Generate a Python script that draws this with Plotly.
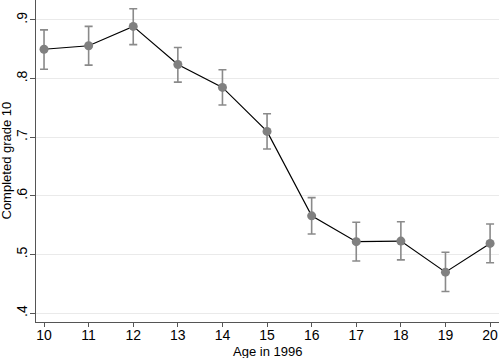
import plotly.graph_objects as go

ages = [10, 11, 12, 13, 14, 15, 16, 17, 18, 19, 20]
share = [0.850, 0.856, 0.889, 0.824, 0.785, 0.710, 0.566, 0.522, 0.523, 0.470, 0.519]
ci_hi = [0.883, 0.889, 0.919, 0.853, 0.815, 0.740, 0.597, 0.555, 0.556, 0.504, 0.552]
ci_lo = [0.816, 0.823, 0.858, 0.794, 0.755, 0.680, 0.535, 0.489, 0.491, 0.437, 0.486]

y_ticks = [0.4, 0.5, 0.6, 0.7, 0.8, 0.9]
y_labels = [".4", ".5", ".6", ".7", ".8", ".9"]

err_plus = [h - s for h, s in zip(ci_hi, share)]
err_minus = [s - l for s, l in zip(share, ci_lo)]

fig = go.Figure()
fig.add_trace(go.Scatter(
    x=ages, y=share, mode="lines+markers",
    line=dict(color="black", width=1.2),
    marker=dict(color="#808080", size=9),
    error_y=dict(type="data", symmetric=False, array=err_plus, arrayminus=err_minus,
                 color="#8a8a8a", thickness=1.6, width=4),
    showlegend=False,
))

tick_font = dict(family="Liberation Sans, Arial, sans-serif", size=14, color="black")
title_font = dict(family="Liberation Sans, Arial, sans-serif", size=13, color="black")
fig.update_layout(
    width=500, height=358,
    margin=dict(l=36, r=1, t=0, b=36),
    paper_bgcolor="white", plot_bgcolor="white",
    font=tick_font,
    xaxis=dict(
        range=[9.82, 20.2], tickmode="array", tickvals=ages,
        ticks="outside", ticklen=4, tickcolor="#555555", tickwidth=1,
        ticklabelstandoff=-4,
        showline=True, linecolor="#555555", linewidth=1.2,
        showgrid=False, zeroline=False,
        tickfont=tick_font,
    ),
    yaxis=dict(
        range=[0.385, 0.934], tickmode="array", tickvals=y_ticks, ticktext=y_labels,
        tickangle=-90,
        ticks="outside", ticklen=5, tickcolor="#555555", tickwidth=1,
        ticklabelstandoff=-3,
        showline=True, linecolor="#555555", linewidth=1.2,
        showgrid=True, gridcolor="#eaeaea", gridwidth=1, zeroline=False,
        tickfont=tick_font,
    ),
    annotations=[
        dict(text="Age in 1996", xref="paper", yref="paper", x=0.5, y=0,
             xanchor="center", yanchor="top", yshift=-21, showarrow=False,
             font=title_font, borderpad=0),
        dict(text="Completed grade 10", xref="paper", yref="paper", x=0, y=0.5,
             xanchor="center", yanchor="middle", xshift=-30.5, textangle=-90,
             showarrow=False, font=title_font),
    ],
)

fig.write_html("out.html", config={"displayModeBar": False},
               post_script="document.body.style.margin='0';document.body.style.overflow='hidden';")
